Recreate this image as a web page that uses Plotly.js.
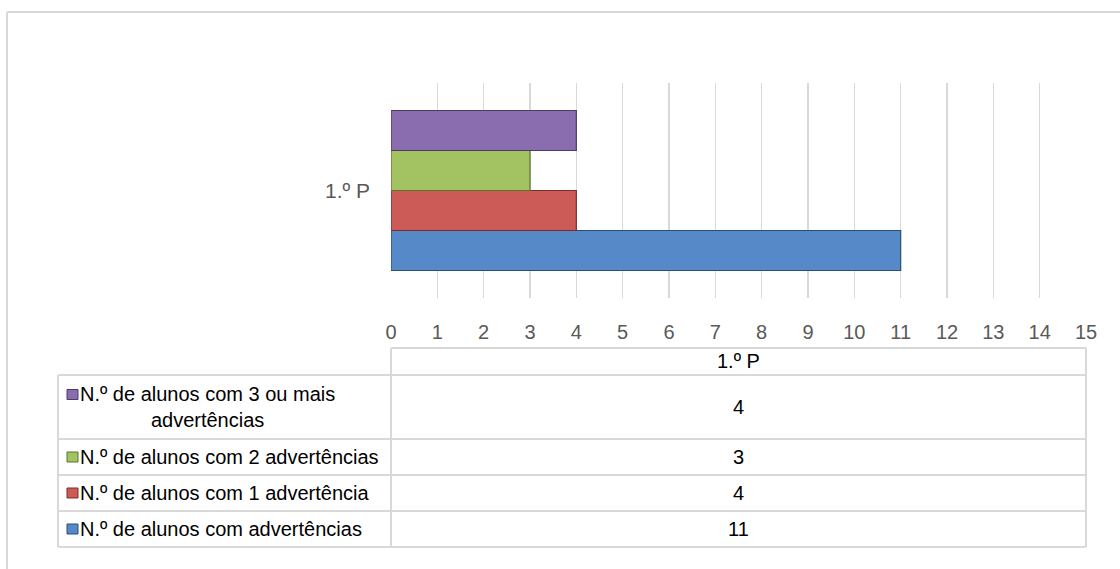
<!DOCTYPE html>
<html>
<head>
<meta charset="utf-8">
<script src="https://cdn.plot.ly/plotly-3.0.1.min.js"></script>
<style>
  html, body { margin: 0; padding: 0; background: #fff; }
  #chart { width: 1120px; height: 569px; }
</style>
</head>
<body>
<div id="chart"></div>
<script>
// ---- data ----
const categories = ['1.º P'];
const seriesNames = [
  'N.º de alunos com advertências',
  'N.º de alunos com 1 advertência',
  'N.º de alunos com 2 advertências',
  'N.º de alunos com 3 ou mais advertências'
];
const alunosComAdvertencias = [11];
const alunosCom1Advertencia = [4];
const alunosCom2Advertencias = [3];
const alunosCom3OuMais = [4];
const xTickValues = [0, 1, 2, 3, 4, 5, 6, 7, 8, 9, 10, 11, 12, 13, 14, 15];

// ---- styling ----
const seriesValues = [alunosComAdvertencias, alunosCom1Advertencia, alunosCom2Advertencias, alunosCom3OuMais];
const fillColors = ['#5689c8', '#cc5a56', '#a3c262', '#8a6dae'];
const lineColors = ['#2c4d75', '#7a2e2c', '#5b7430', '#4d3a66'];
const NUMFONT = '"Liberation Sans", Arial, sans-serif';
const SANS = '"Liberation Sans", Arial, sans-serif';
const GRID = '#d9d9d9';

// plot area in pixels
const L = 391, R = 1086, T = 83, B = 298;
const px = x => (x - L) / (R - L);
const py = y => (B - y) / (B - T);

const traces = seriesNames.map((name, i) => ({
  type: 'bar',
  orientation: 'h',
  name: name,
  y: categories,
  x: seriesValues[i],
  marker: { color: fillColors[i], line: { color: lineColors[i], width: 1.2 } },
  hoverinfo: 'skip'
}));

const shapes = [];
const annotations = [];
function hline(x0, x1, y, color, w) {
  shapes.push({ type: 'line', xref: 'paper', yref: 'paper', x0: px(x0), x1: px(x1), y0: py(y), y1: py(y),
    line: { color: color || GRID, width: w || 2 }, layer: 'above' });
}
function vline(x, y0, y1, color, w) {
  shapes.push({ type: 'line', xref: 'paper', yref: 'paper', x0: px(x), x1: px(x), y0: py(y0), y1: py(y1),
    line: { color: color || GRID, width: w || 2 }, layer: 'above' });
}

// outer chart border
hline(7, 1121, 12);
vline(7, 12, 570);

// data table
const tableLeft = 58, tableRight = 1086, headerTop = 348;
const rowEdges = [375, 439, 475, 511, 547];
hline(L, tableRight, headerTop);
rowEdges.forEach(y => hline(tableLeft, tableRight, y));
vline(L, headerTop, rowEdges[rowEdges.length - 1]);
vline(tableRight, headerTop, rowEdges[rowEdges.length - 1]);
vline(tableLeft, rowEdges[0], rowEdges[rowEdges.length - 1]);

// header
annotations.push({ xref: 'paper', yref: 'paper', x: px((L + tableRight) / 2), y: py(361),
  text: categories[0], showarrow: false, xanchor: 'center', yanchor: 'middle',
  font: { family: NUMFONT, size: 20, color: '#000' } });

// rows: top to bottom is reverse of trace order
const rowOrder = [3, 2, 1, 0];
rowOrder.forEach((si, r) => {
  const y0 = rowEdges[r], y1 = rowEdges[r + 1];
  const yc = (y0 + y1) / 2;
  let label = seriesNames[si];
  let twoLines = false;
  if (label.length > 34) {
    const k = label.lastIndexOf(' ');
    label = label.slice(0, k) + '<br>' + label.slice(k + 1);
    twoLines = true;
  }
  const firstLineY = twoLines ? yc - 12.5 : yc;
  shapes.push({ type: 'rect', xref: 'paper', yref: 'paper',
    x0: px(67), x1: px(78), y0: py(firstLineY - 5), y1: py(firstLineY + 5),
    fillcolor: fillColors[si], line: { color: lineColors[si], width: 1 }, layer: 'above' });
  annotations.push({ xref: 'paper', yref: 'paper', x: px(78), y: py(yc),
    text: label, showarrow: false, xanchor: 'left', yanchor: 'middle', align: 'center',
    font: { family: SANS, size: 20, color: '#000' } });
  annotations.push({ xref: 'paper', yref: 'paper', x: px((L + tableRight) / 2), y: py(yc),
    text: String(seriesValues[si][0]), showarrow: false, xanchor: 'center', yanchor: 'middle',
    font: { family: NUMFONT, size: 20, color: '#000' } });
});

const layout = {
  width: 1120, height: 569,
  margin: { l: L, r: 1120 - R, t: T, b: 569 - B, pad: 0 },
  paper_bgcolor: '#fff', plot_bgcolor: '#fff',
  showlegend: false,
  barmode: 'group',
  bargap: 0.256,
  bargroupgap: 0,
  xaxis: {
    range: [0, 15], tickvals: xTickValues, ticktext: xTickValues.map(String),
    showgrid: true, gridcolor: GRID, gridwidth: 1.5,
    zeroline: false, showline: false, ticks: '',
    ticklabelstandoff: 20,
    tickfont: { family: NUMFONT, size: 20, color: '#595959' },
    fixedrange: true
  },
  yaxis: {
    range: [-0.5, 0.5], showgrid: false, zeroline: false, showline: false, ticks: '',
    ticklabelstandoff: 20,
    tickfont: { family: NUMFONT, size: 21, color: '#595959' },
    fixedrange: true
  },
  shapes: shapes,
  annotations: annotations
};

Plotly.newPlot('chart', traces, layout, { staticPlot: true, displayModeBar: false });
</script>
</body>
</html>
